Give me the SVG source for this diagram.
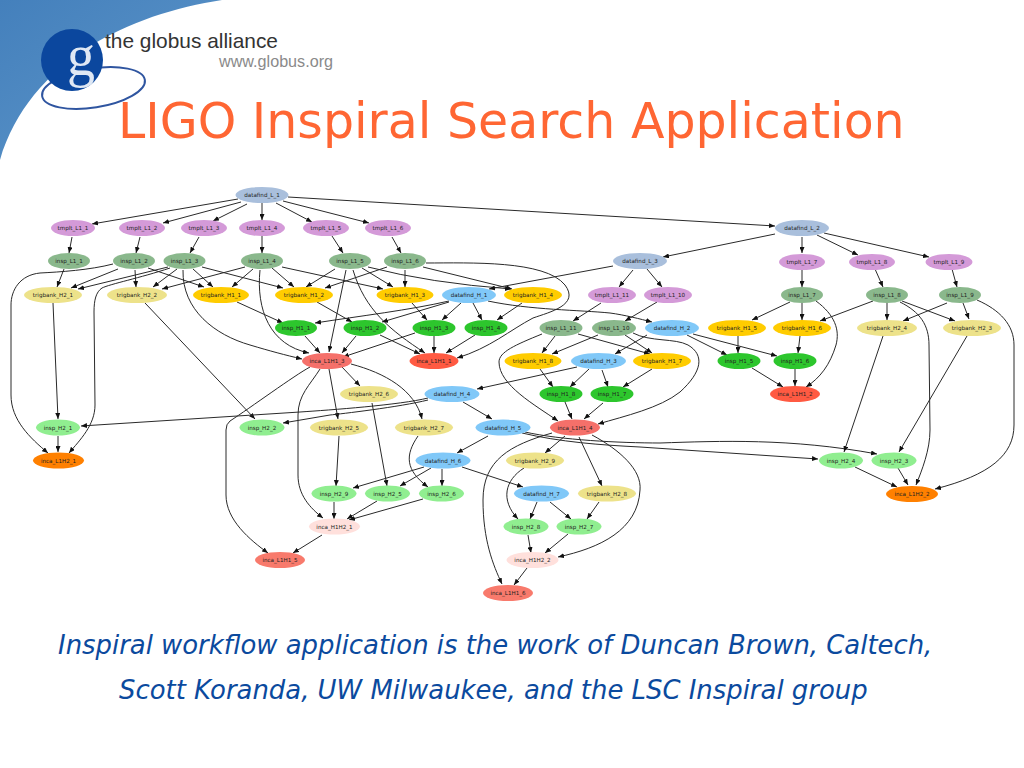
<svg xmlns="http://www.w3.org/2000/svg" width="1024" height="768" viewBox="0 0 1024 768">
<style>
text{font-family:"DejaVu Sans","Liberation Sans",sans-serif}
.n text{font-size:5.6px;fill:#222;text-anchor:middle}
#edges path{fill:none;stroke:#2a2a2a;stroke-width:1;marker-end:url(#ah)}
.dl{fill:#a9bfdc}.tm{fill:#d49ad8}.il{fill:#8ab88c}.t2{fill:#ede28a}.t1{fill:#ffcc00}.dh{fill:#80c8f8}.i1{fill:#2dc62d}.i2{fill:#90ee90}.c1{fill:#ff5a42}.c3{fill:#f5706a}.c5{fill:#f87a6c}.c2{fill:#ff8000}.ch{fill:#ffe0dc}
.title{font-size:49px;fill:#ff6633}
.cap{font-size:25.9px;font-style:italic;fill:#0b4a9e}
</style>
<defs>
<marker id="ah" markerUnits="userSpaceOnUse" markerWidth="7" markerHeight="5" refX="6" refY="2.5" orient="auto"><path d="M0,0 L6,2.500 L0,5 Z" fill="#111"/></marker>
<linearGradient id="sw" x1="0" y1="0" x2="1" y2="1"><stop offset="0" stop-color="#4480bc"/><stop offset="1" stop-color="#5f97ca"/></linearGradient>
</defs>
<rect width="1024" height="768" fill="#fff"/>
<g id="logo">
<path d="M0,0 L222,0 C130,14 30,60 0,160 Z" fill="url(#sw)"/>
<ellipse cx="93.500" cy="88" rx="52" ry="19.500" transform="rotate(-9 93.500 88)" fill="#fff" stroke="#2f55a0" stroke-width="2"/>
<circle cx="72" cy="60" r="31" fill="#0b479e"/>
<text x="67" y="75" font-size="60" fill="#dfe8f4" textLength="28" lengthAdjust="spacingAndGlyphs" style="font-family:'Liberation Serif',serif">g</text>
<text x="105" y="48" font-size="21" fill="#333" textLength="173" lengthAdjust="spacingAndGlyphs" style="font-family:'Liberation Sans',sans-serif">the globus alliance</text>
<text x="219" y="67" font-size="16" fill="#8a8a8a" textLength="114" lengthAdjust="spacingAndGlyphs" style="font-family:'Liberation Sans',sans-serif">www.globus.org</text>
</g>
<text class="title" x="118" y="138">LIGO Inspiral Search Application</text>
<g id="edges">
<path d="M238,199L92,224"/><path d="M241,202L163,223"/><path d="M247,204L213,221"/><path d="M262,203L262,220"/><path d="M276,203L312,222"/><path d="M283,201L369,223"/><path d="M288,197L775,226"/>
<path d="M72,237L69,253"/><path d="M140,237L136,253"/><path d="M199,237L190,253"/><path d="M262,236L262,253"/><path d="M332,236L343,253"/><path d="M392,237L401,253"/>
<path d="M64,269L57,287"/><path d="M118,269L71,288"/><path d="M135,270L136,287"/><path d="M148,268L204,287"/>
<path d="M113,264C90,270 60,272 40,273C20,275 11,290 11,305L11,395C11,420 30,438 48,453"/>
<path d="M168,267L78,289"/><path d="M177,269L153,287"/><path d="M193,269L213,287"/><path d="M202,267L283,288"/>
<path d="M183,270C182,310 215,335 250,345C270,351 285,355 302,359"/>
<path d="M170,268C140,278 110,284 102,288C96,292 94,300 94,312L95,405C95,425 80,440 69,453"/>
<path d="M245,267L162,289"/><path d="M253,269L232,287"/><path d="M272,268L294,287"/><path d="M282,267L383,289"/>
<path d="M260,270C256,310 270,345 309,353"/>
<path d="M335,269L306,287"/><path d="M362,268L393,287"/><path d="M368,267Q430,283 511,289"/><path d="M346,270L329,352"/><path d="M353,270C365,310 390,330 425,353"/>
<path d="M387,267L325,288"/><path d="M405,270L405,287"/><path d="M423,267L512,289"/>
<path d="M426,263C470,263 545,260 565,285C580,305 550,312 533,318C510,330 490,348 457,358"/>
<path d="M53,303L58,419"/><path d="M145,303L255,419"/><path d="M237,302L283,323"/><path d="M317,302L352,322"/><path d="M412,303L427,320"/><path d="M522,303L497,320"/>
<path d="M449,301C410,310 360,316 315,323"/><path d="M449,302L382,322"/><path d="M461,303L442,320"/><path d="M473,303L482,320"/>
<path d="M488,301C530,310 580,310 610,313C625,315 640,319 652,322"/>
<path d="M305,336L320,353"/><path d="M356,336L342,353"/><path d="M380,335L420,354"/><path d="M415,333L343,357"/><path d="M434,336L434,353"/><path d="M475,335L446,353"/>
<path d="M342,367L360,386"/><path d="M329,369L338,419"/>
<path d="M351,364C385,373 415,390 422,419"/>
<path d="M310,367C295,375 250,408 230,421Q226,424 226,430L226,495C226,520 250,540 268,553"/>
<path d="M320,369C310,385 298,395 298,415L298,475C298,495 310,508 323,518"/>
<path d="M775,234L663,257"/><path d="M802,237L802,253"/><path d="M817,235L858,255"/><path d="M824,233L929,257"/>
<path d="M633,270L619,287"/><path d="M647,269L662,287"/><path d="M613,266L489,289"/>
<path d="M601,303L573,321"/><path d="M657,302L625,321"/>
<path d="M647,335L615,354"/>
<path d="M577,367L477,389"/><path d="M589,369L570,387"/><path d="M602,370L608,387"/>
<path d="M555,336L542,353"/><path d="M578,334L650,354"/>
<path d="M542,334C515,345 499,352 499,362C499,385 535,405 558,421"/>
<path d="M598,335L552,354"/><path d="M625,335L652,353"/>
<path d="M633,333C650,342 675,338 688,345C705,355 702,372 680,392C660,408 625,416 598,424"/>
<path d="M540,369L553,387"/><path d="M652,369L623,387"/><path d="M565,402L572,419"/><path d="M603,403L584,419"/>
<path d="M428,398C400,405 330,410 300,412L81,426"/><path d="M428,400C400,407 340,414 330,415L283,423"/><path d="M463,402L492,419"/>
<path d="M488,436L457,453"/>
<path d="M525,432C560,440 620,443 660,443C720,441 790,438 877,454"/>
<path d="M522,433C560,442 600,445 640,447L818,459"/>
<path d="M565,436L545,453"/><path d="M579,437L602,486"/>
<path d="M592,435C620,450 642,470 640,490C638,530 600,548 558,557"/>
<path d="M552,433C510,445 483,460 483,500C483,540 493,565 502,584"/>
<path d="M372,403L387,486"/><path d="M339,436L336,486"/>
<path d="M418,436C405,455 405,470 428,487"/>
<path d="M424,467L353,488"/><path d="M431,468L400,486"/><path d="M442,469L442,486"/><path d="M462,467L523,487"/>
<path d="M524,468C505,480 500,500 518,519"/>
<path d="M537,502L530,519"/><path d="M550,502L571,519"/><path d="M599,502L587,519"/>
<path d="M334,502L334,519"/><path d="M377,501L347,519"/><path d="M423,499L349,520"/><path d="M322,535L293,553"/>
<path d="M528,535L531,553"/><path d="M568,534L545,553"/><path d="M527,568L514,585"/>
<path d="M58,436L58,452"/>
<path d="M802,270L802,287"/><path d="M875,269L883,287"/><path d="M952,269L957,287"/>
<path d="M790,302L752,320"/><path d="M802,303L802,320"/>
<path d="M816,301C835,315 840,330 836,345C830,365 820,378 806,387"/>
<path d="M873,301L820,321"/><path d="M887,303L887,320"/><path d="M902,301L955,321"/>
<path d="M900,302C920,312 929,325 929,345L930,430C930,450 922,470 916,485"/>
<path d="M947,303L903,321"/><path d="M963,303L969,319"/>
<path d="M977,300C1000,310 1014,325 1014,345L1014,425C1014,455 990,475 935,489"/>
<path d="M738,336L738,353"/><path d="M800,336L798,353"/>
<path d="M687,335L727,355"/><path d="M693,334L777,356"/>
<path d="M752,368L783,387"/><path d="M795,369L795,386"/>
<path d="M883,336L844,452"/><path d="M967,336L899,452"/>
<path d="M855,467L897,487"/><path d="M898,468L908,485"/>
</g>
<g id="datafind_L_1" class="n"><ellipse class="dl" cx="262" cy="195" rx="26.500" ry="8"/><text x="262" y="197">datafind_L_1</text></g>
<g id="tmplt_L1_1" class="n"><ellipse class="tm" cx="73" cy="228" rx="22" ry="8"/><text x="73" y="230">tmplt_L1_1</text></g>
<g id="tmplt_L1_2" class="n"><ellipse class="tm" cx="142" cy="228" rx="23" ry="8"/><text x="142" y="230">tmplt_L1_2</text></g>
<g id="tmplt_L1_3" class="n"><ellipse class="tm" cx="204" cy="228" rx="23" ry="8"/><text x="204" y="230">tmplt_L1_3</text></g>
<g id="tmplt_L1_4" class="n"><ellipse class="tm" cx="262" cy="228" rx="23" ry="8"/><text x="262" y="230">tmplt_L1_4</text></g>
<g id="tmplt_L1_5" class="n"><ellipse class="tm" cx="326" cy="228" rx="23" ry="8"/><text x="326" y="230">tmplt_L1_5</text></g>
<g id="tmplt_L1_6" class="n"><ellipse class="tm" cx="388" cy="228" rx="23" ry="8"/><text x="388" y="230">tmplt_L1_6</text></g>
<g id="insp_L1_1" class="n"><ellipse class="il" cx="69" cy="261" rx="21" ry="8"/><text x="69" y="263">insp_L1_1</text></g>
<g id="insp_L1_2" class="n"><ellipse class="il" cx="134" cy="261" rx="21" ry="8"/><text x="134" y="263">insp_L1_2</text></g>
<g id="insp_L1_3" class="n"><ellipse class="il" cx="184.500" cy="261" rx="21" ry="8"/><text x="184.500" y="263">insp_L1_3</text></g>
<g id="insp_L1_4" class="n"><ellipse class="il" cx="262" cy="261" rx="21" ry="8"/><text x="262" y="263">insp_L1_4</text></g>
<g id="insp_L1_5" class="n"><ellipse class="il" cx="350" cy="261" rx="21" ry="8"/><text x="350" y="263">insp_L1_5</text></g>
<g id="insp_L1_6" class="n"><ellipse class="il" cx="405" cy="261" rx="21" ry="8"/><text x="405" y="263">insp_L1_6</text></g>
<g id="trigbank_H2_1" class="n"><ellipse class="t2" cx="53" cy="295" rx="29" ry="8"/><text x="53" y="297">trigbank_H2_1</text></g>
<g id="trigbank_H2_2" class="n"><ellipse class="t2" cx="137" cy="295" rx="30" ry="8"/><text x="137" y="297">trigbank_H2_2</text></g>
<g id="trigbank_H1_1" class="n"><ellipse class="t1" cx="221" cy="295" rx="28" ry="8"/><text x="221" y="297">trigbank_H1_1</text></g>
<g id="trigbank_H1_2" class="n"><ellipse class="t1" cx="304" cy="295" rx="29" ry="8"/><text x="304" y="297">trigbank_H1_2</text></g>
<g id="trigbank_H1_3" class="n"><ellipse class="t1" cx="405" cy="295" rx="28.500" ry="8"/><text x="405" y="297">trigbank_H1_3</text></g>
<g id="datafind_H_1" class="n"><ellipse class="dh" cx="469" cy="295" rx="27" ry="8"/><text x="469" y="297">datafind_H_1</text></g>
<g id="trigbank_H1_4" class="n"><ellipse class="t1" cx="533" cy="295" rx="29" ry="8"/><text x="533" y="297">trigbank_H1_4</text></g>
<g id="insp_H1_1" class="n"><ellipse class="i1" cx="296" cy="328" rx="21" ry="8"/><text x="296" y="330">insp_H1_1</text></g>
<g id="insp_H1_2" class="n"><ellipse class="i1" cx="365" cy="328" rx="21.500" ry="8"/><text x="365" y="330">insp_H1_2</text></g>
<g id="insp_H1_3" class="n"><ellipse class="i1" cx="434" cy="328" rx="21.500" ry="8"/><text x="434" y="330">insp_H1_3</text></g>
<g id="insp_H1_4" class="n"><ellipse class="i1" cx="486" cy="328" rx="21.500" ry="8"/><text x="486" y="330">insp_H1_4</text></g>
<g id="inca_L1H1_3" class="n"><ellipse class="c3" cx="327" cy="361" rx="25" ry="8"/><text x="327" y="363">inca_L1H1_3</text></g>
<g id="inca_L1H1_1" class="n"><ellipse class="c1" cx="434" cy="361" rx="24.500" ry="8"/><text x="434" y="363">inca_L1H1_1</text></g>
<g id="datafind_L_2" class="n"><ellipse class="dl" cx="802" cy="228" rx="27" ry="8"/><text x="802" y="230">datafind_L_2</text></g>
<g id="datafind_L_3" class="n"><ellipse class="dl" cx="640" cy="261" rx="27" ry="8"/><text x="640" y="263">datafind_L_3</text></g>
<g id="tmplt_L1_7" class="n"><ellipse class="tm" cx="802" cy="262" rx="23" ry="8"/><text x="802" y="264">tmplt_L1_7</text></g>
<g id="tmplt_L1_8" class="n"><ellipse class="tm" cx="872" cy="262" rx="23" ry="8"/><text x="872" y="264">tmplt_L1_8</text></g>
<g id="tmplt_L1_9" class="n"><ellipse class="tm" cx="949" cy="262" rx="23.500" ry="8"/><text x="949" y="264">tmplt_L1_9</text></g>
<g id="tmplt_L1_11" class="n"><ellipse class="tm" cx="612" cy="295" rx="24" ry="8"/><text x="612" y="297">tmplt_L1_11</text></g>
<g id="tmplt_L1_10" class="n"><ellipse class="tm" cx="668" cy="295" rx="24" ry="8"/><text x="668" y="297">tmplt_L1_10</text></g>
<g id="insp_L1_7" class="n"><ellipse class="il" cx="802" cy="295" rx="21" ry="8"/><text x="802" y="297">insp_L1_7</text></g>
<g id="insp_L1_8" class="n"><ellipse class="il" cx="887" cy="295" rx="21" ry="8"/><text x="887" y="297">insp_L1_8</text></g>
<g id="insp_L1_9" class="n"><ellipse class="il" cx="960" cy="295" rx="21" ry="8"/><text x="960" y="297">insp_L1_9</text></g>
<g id="insp_L1_11" class="n"><ellipse class="il" cx="561" cy="328" rx="21.500" ry="8"/><text x="561" y="330">insp_L1_11</text></g>
<g id="insp_L1_10" class="n"><ellipse class="il" cx="614" cy="328" rx="22" ry="8"/><text x="614" y="330">insp_L1_10</text></g>
<g id="datafind_H_2" class="n"><ellipse class="dh" cx="672" cy="328" rx="27" ry="8"/><text x="672" y="330">datafind_H_2</text></g>
<g id="trigbank_H1_5" class="n"><ellipse class="t1" cx="737" cy="328" rx="29" ry="8"/><text x="737" y="330">trigbank_H1_5</text></g>
<g id="trigbank_H1_6" class="n"><ellipse class="t1" cx="802" cy="328" rx="29" ry="8"/><text x="802" y="330">trigbank_H1_6</text></g>
<g id="trigbank_H2_4" class="n"><ellipse class="t2" cx="887" cy="328" rx="30" ry="8"/><text x="887" y="330">trigbank_H2_4</text></g>
<g id="trigbank_H2_3" class="n"><ellipse class="t2" cx="972" cy="328" rx="29" ry="8"/><text x="972" y="330">trigbank_H2_3</text></g>
<g id="trigbank_H1_8" class="n"><ellipse class="t1" cx="533" cy="361" rx="28.500" ry="8"/><text x="533" y="363">trigbank_H1_8</text></g>
<g id="datafind_H_3" class="n"><ellipse class="dh" cx="598.500" cy="361" rx="27.500" ry="8"/><text x="598.500" y="363">datafind_H_3</text></g>
<g id="trigbank_H1_7" class="n"><ellipse class="t1" cx="662" cy="361" rx="29" ry="8"/><text x="662" y="363">trigbank_H1_7</text></g>
<g id="insp_H1_5" class="n"><ellipse class="i1" cx="739" cy="361" rx="21.500" ry="8"/><text x="739" y="363">insp_H1_5</text></g>
<g id="insp_H1_6" class="n"><ellipse class="i1" cx="795" cy="361" rx="21.500" ry="8"/><text x="795" y="363">insp_H1_6</text></g>
<g id="insp_H1_8" class="n"><ellipse class="i1" cx="561" cy="394" rx="21.500" ry="8"/><text x="561" y="396">insp_H1_8</text></g>
<g id="insp_H1_7" class="n"><ellipse class="i1" cx="612" cy="394" rx="21.500" ry="8"/><text x="612" y="396">insp_H1_7</text></g>
<g id="inca_L1H1_2" class="n"><ellipse class="c1" cx="795" cy="394" rx="25" ry="8"/><text x="795" y="396">inca_L1H1_2</text></g>
<g id="trigbank_H2_6" class="n"><ellipse class="t2" cx="369" cy="394" rx="29" ry="8"/><text x="369" y="396">trigbank_H2_6</text></g>
<g id="datafind_H_4" class="n"><ellipse class="dh" cx="452" cy="394" rx="27.500" ry="8"/><text x="452" y="396">datafind_H_4</text></g>
<g id="insp_H2_1" class="n"><ellipse class="i2" cx="58" cy="427.500" rx="22" ry="8"/><text x="58" y="429.500">insp_H2_1</text></g>
<g id="insp_H2_2" class="n"><ellipse class="i2" cx="262" cy="427.500" rx="22.500" ry="8"/><text x="262" y="429.500">insp_H2_2</text></g>
<g id="trigbank_H2_5" class="n"><ellipse class="t2" cx="339" cy="427.500" rx="29" ry="8"/><text x="339" y="429.500">trigbank_H2_5</text></g>
<g id="trigbank_H2_7" class="n"><ellipse class="t2" cx="424" cy="427.500" rx="29" ry="8"/><text x="424" y="429.500">trigbank_H2_7</text></g>
<g id="datafind_H_5" class="n"><ellipse class="dh" cx="503" cy="427.500" rx="27.500" ry="8"/><text x="503" y="429.500">datafind_H_5</text></g>
<g id="inca_L1H1_4" class="n"><ellipse class="c3" cx="575" cy="427.500" rx="25" ry="8"/><text x="575" y="429.500">inca_L1H1_4</text></g>
<g id="inca_L1H2_1" class="n"><ellipse class="c2" cx="58.500" cy="460.500" rx="25.500" ry="8"/><text x="58.500" y="462.500">inca_L1H2_1</text></g>
<g id="datafind_H_6" class="n"><ellipse class="dh" cx="443" cy="460.500" rx="27.500" ry="8"/><text x="443" y="462.500">datafind_H_6</text></g>
<g id="trigbank_H2_9" class="n"><ellipse class="t2" cx="535" cy="460.500" rx="29" ry="8"/><text x="535" y="462.500">trigbank_H2_9</text></g>
<g id="insp_H2_4" class="n"><ellipse class="i2" cx="841" cy="460.500" rx="22" ry="8"/><text x="841" y="462.500">insp_H2_4</text></g>
<g id="insp_H2_3" class="n"><ellipse class="i2" cx="894" cy="460.500" rx="22.500" ry="8"/><text x="894" y="462.500">insp_H2_3</text></g>
<g id="insp_H2_9" class="n"><ellipse class="i2" cx="334" cy="493.500" rx="22.500" ry="8"/><text x="334" y="495.500">insp_H2_9</text></g>
<g id="insp_H2_5" class="n"><ellipse class="i2" cx="387.500" cy="493.500" rx="22.500" ry="8"/><text x="387.500" y="495.500">insp_H2_5</text></g>
<g id="insp_H2_6" class="n"><ellipse class="i2" cx="441.500" cy="493.500" rx="22.500" ry="8"/><text x="441.500" y="495.500">insp_H2_6</text></g>
<g id="datafind_H_7" class="n"><ellipse class="dh" cx="541.500" cy="493.500" rx="27.500" ry="8"/><text x="541.500" y="495.500">datafind_H_7</text></g>
<g id="trigbank_H2_8" class="n"><ellipse class="t2" cx="607" cy="493.500" rx="29" ry="8"/><text x="607" y="495.500">trigbank_H2_8</text></g>
<g id="inca_L1H2_2" class="n"><ellipse class="c2" cx="912" cy="494" rx="26" ry="8"/><text x="912" y="496">inca_L1H2_2</text></g>
<g id="inca_H1H2_1" class="n"><ellipse class="ch" cx="334.500" cy="526.500" rx="25.500" ry="8"/><text x="334.500" y="528.500">inca_H1H2_1</text></g>
<g id="insp_H2_8" class="n"><ellipse class="i2" cx="526" cy="526.500" rx="22.500" ry="8"/><text x="526" y="528.500">insp_H2_8</text></g>
<g id="insp_H2_7" class="n"><ellipse class="i2" cx="579" cy="526.500" rx="22.500" ry="8"/><text x="579" y="528.500">insp_H2_7</text></g>
<g id="inca_L1H1_5" class="n"><ellipse class="c5" cx="280" cy="560" rx="25" ry="8"/><text x="280" y="562">inca_L1H1_5</text></g>
<g id="inca_H1H2_2" class="n"><ellipse class="ch" cx="532.500" cy="560" rx="26" ry="8"/><text x="532.500" y="562">inca_H1H2_2</text></g>
<g id="inca_L1H1_6" class="n"><ellipse class="c5" cx="508" cy="593" rx="25" ry="8"/><text x="508" y="595">inca_L1H1_6</text></g>
<text class="cap" x="58" y="654">Inspiral workflow application is the work of Duncan Brown, Caltech,</text>
<text class="cap" x="119" y="699">Scott Koranda, UW Milwaukee, and the LSC Inspiral group</text>
</svg>
